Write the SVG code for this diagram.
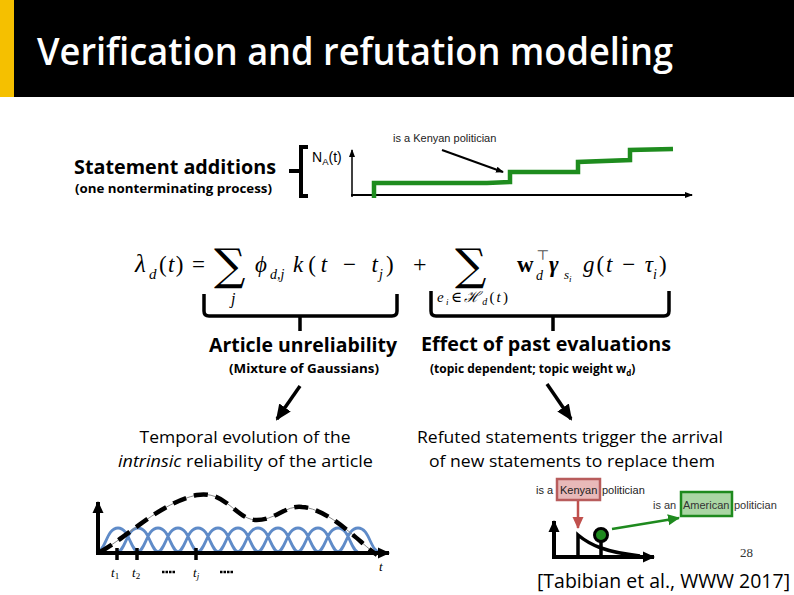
<svg xmlns="http://www.w3.org/2000/svg" width="794" height="595" viewBox="0 0 794 595">
<defs>
<style>
.sans{font-family:"Open Sans","Liberation Sans",sans-serif}
.arial{font-family:"Liberation Sans",Arial,sans-serif}
.math{font-family:"Liberation Serif","DejaVu Serif",serif}
.bold{font-weight:bold}
.ax{stroke:#000;fill:none}
</style>
<marker id="ahBig" markerUnits="userSpaceOnUse" markerWidth="16" markerHeight="16" viewBox="0 0 16 16" refX="14" refY="8" orient="auto">
<path d="M0,1 L16,8 L0,15 Z" fill="#000"/>
</marker>
<marker id="ahSmall" markerUnits="userSpaceOnUse" markerWidth="8" markerHeight="8" viewBox="0 0 8 8" refX="7" refY="4" orient="auto">
<path d="M0,1 L8,4 L0,7 Z" fill="#000"/>
</marker>
<marker id="ahMid" markerUnits="userSpaceOnUse" markerWidth="12" markerHeight="12" viewBox="0 0 12 12" refX="11" refY="6" orient="auto">
<path d="M0,0.5 L12,6 L0,11.5 Z" fill="#000"/>
</marker>
<marker id="ahRed" markerUnits="userSpaceOnUse" markerWidth="12" markerHeight="12" viewBox="0 0 12 12" refX="11" refY="6" orient="auto">
<path d="M0,0.5 L12,6 L0,11.5 Z" fill="#c0504d"/>
</marker>
<marker id="ahGreen" markerUnits="userSpaceOnUse" markerWidth="12" markerHeight="12" viewBox="0 0 12 12" refX="11" refY="6" orient="auto">
<path d="M0,0.5 L12,6 L0,11.5 Z" fill="#1e8a1e"/>
</marker>
</defs>
<rect width="794" height="595" fill="#fff"/>

<g id="title">
<rect x="0" y="0" width="794" height="97" fill="#000"/>
<rect x="0" y="0" width="14" height="97" fill="#f5c000"/>
<text x="37" y="65" class="sans" font-size="37" fill="#fff" font-weight="600" textLength="636" lengthAdjust="spacingAndGlyphs">Verification and refutation modeling</text>
</g>

<g id="statement-additions">
<text x="74" y="174" class="sans bold" font-size="19.5" textLength="202" lengthAdjust="spacingAndGlyphs">Statement additions</text>
<text x="75" y="193" class="sans bold" font-size="12" textLength="197" lengthAdjust="spacingAndGlyphs">(one nonterminating process)</text>
<path d="M308,147 L301,147 L301,196 L308,196 M289,171 L301,171" stroke="#000" stroke-width="4" fill="none"/>
</g>

<g id="na-chart">
<text x="312" y="162" class="arial" font-size="14">N<tspan font-size="9.5" dy="3">A</tspan><tspan dy="-3">(t)</tspan></text>
<line x1="352" y1="197" x2="352" y2="150" class="ax" stroke-width="1.5" marker-end="url(#ahSmall)"/>
<line x1="351" y1="195" x2="692" y2="195" class="ax" stroke-width="2" marker-end="url(#ahSmall)"/>
<path d="M374,198 L374,183 L487,183 L510,182 L510,172 L578,172 L578,162 L630,160 L630,150 L673,149" stroke="#1e8c1e" stroke-width="4.5" fill="none"/>
<text x="393" y="142" class="arial" font-size="11" fill="#222">is a Kenyan politician</text>
<line x1="442" y1="150" x2="503" y2="172" stroke="#000" stroke-width="2" marker-end="url(#ahSmall)"/>
</g>

<g id="formula" class="math">
<text x="135" y="272" font-size="25" font-style="italic">λ</text>
<text x="149" y="279" font-size="15" font-style="italic">d</text>
<text x="159" y="272" font-size="23" textLength="46" lengthAdjust="spacing">(<tspan font-style="italic">t</tspan>) =</text>
<text x="214" y="280" font-size="44" font-family="DejaVu Serif,serif">∑</text>
<text x="231" y="304" font-size="16" font-style="italic">j</text>
<text x="255" y="272" font-size="23" font-style="italic">ϕ</text>
<text x="270" y="279" font-size="14" font-style="italic">d,j</text>
<text x="293" y="272" font-size="23" textLength="85" lengthAdjust="spacing"><tspan font-style="italic">k</tspan>(<tspan font-style="italic">t</tspan> − <tspan font-style="italic">t</tspan></text>
<text x="379" y="279" font-size="14" font-style="italic">j</text>
<text x="386" y="272" font-size="23">)</text>
<text x="413" y="272" font-size="24">+</text>
<text x="455" y="280" font-size="44" font-family="DejaVu Serif,serif">∑</text>
<text x="437" y="302" font-size="15" textLength="71" lengthAdjust="spacing"><tspan font-style="italic">e</tspan><tspan font-size="9" dy="3" font-style="italic">i</tspan><tspan dy="-3">∈</tspan><tspan font-style="italic">ℋ</tspan><tspan font-size="10" dy="3" font-style="italic">d</tspan><tspan dy="-3">(</tspan><tspan font-style="italic">t</tspan>)</text>
<text x="517" y="272" font-size="23" font-weight="bold">w</text>
<text x="536" y="280" font-size="14" font-style="italic">d</text>
<text x="536" y="260" font-size="14" fill="#555">⊤</text>
<text x="549" y="272" font-size="23" font-weight="bold" font-style="italic">γ</text>
<text x="564" y="279" font-size="13" font-style="italic">s<tspan font-size="9" dy="3">i</tspan></text>
<text x="583" y="272" font-size="23" textLength="70" lengthAdjust="spacing"><tspan font-style="italic">g</tspan>(<tspan font-style="italic">t</tspan> − <tspan font-style="italic">τ</tspan></text>
<text x="653" y="279" font-size="14" font-style="italic">i</text>
<text x="659" y="272" font-size="23">)</text>
</g>

<g id="underbraces" stroke="#000" stroke-width="3.5" fill="none">
<path d="M204,294 L204,311 Q204,316 209,316 L392,316 Q397,316 397,311 L397,294 M300,316 L300,331"/>
<path d="M431,291 L431,311 Q431,316 436,316 L664,316 Q669,316 669,311 L669,291 M553,316 L553,331"/>
</g>

<g id="article-unreliability">
<text x="209" y="352" class="sans bold" font-size="19.5" textLength="188" lengthAdjust="spacingAndGlyphs">Article unreliability</text>
<text x="229" y="373" class="sans bold" font-size="12" textLength="150" lengthAdjust="spacingAndGlyphs">(Mixture of Gaussians)</text>
</g>

<g id="past-evaluations">
<text x="421" y="351" class="sans bold" font-size="19.5" textLength="250" lengthAdjust="spacingAndGlyphs">Effect of past evaluations</text>
<text x="430" y="373" class="sans bold" font-size="12">(topic dependent; topic weight w<tspan font-size="8" dy="3">d</tspan><tspan dy="-3">)</tspan></text>
</g>

<g id="connectors" stroke="#000" stroke-width="3.5" fill="none">
<line x1="300" y1="386" x2="277" y2="419" marker-end="url(#ahBig)"/>
<line x1="547" y1="384" x2="571" y2="419" marker-end="url(#ahBig)"/>
</g>

<g id="temporal-evolution">
<text x="245" y="443" class="sans" font-size="16.5" text-anchor="middle" textLength="211" lengthAdjust="spacingAndGlyphs">Temporal evolution of the</text>
<text x="118" y="467" class="sans" font-size="16.5" textLength="255" lengthAdjust="spacingAndGlyphs"><tspan font-style="italic">intrinsic</tspan> reliability of the article</text>
</g>

<g id="refuted-statements">
<text x="570" y="443" class="sans" font-size="16.5" text-anchor="middle" textLength="306" lengthAdjust="spacingAndGlyphs">Refuted statements trigger the arrival</text>
<text x="572" y="467" class="sans" font-size="16.5" text-anchor="middle" textLength="286" lengthAdjust="spacingAndGlyphs">of new statements to replace them</text>
</g>

<g id="gaussian-chart">
<path d="M96,553 C106,552 106,528 118,528 C130,528 130,552 140,553 M116,553 C126,552 126,528 138,528 C150,528 150,552 160,553 M136,553 C146,552 146,528 158,528 C170,528 170,552 180,553 M156,553 C166,552 166,528 178,528 C190,528 190,552 200,553 M176,553 C186,552 186,528 198,528 C210,528 210,552 220,553 M196,553 C206,552 206,528 218,528 C230,528 230,552 240,553 M216,553 C226,552 226,528 238,528 C250,528 250,552 260,553 M236,553 C246,552 246,528 258,528 C270,528 270,552 280,553 M256,553 C266,552 266,528 278,528 C290,528 290,552 300,553 M276,553 C286,552 286,528 298,528 C310,528 310,552 320,553 M296,553 C306,552 306,528 318,528 C330,528 330,552 340,553 M316,553 C326,552 326,528 338,528 C350,528 350,552 360,553 M336,553 C346,552 346,528 358,528 C370,528 370,552 381,553" stroke="#5f8bc8" stroke-width="2.8" fill="none"/>
<path d="M100,552 C130,535 160,503 197,495 C225,490 235,518 255,520 C275,521 285,505 302,507 C330,509 360,543 377,555" stroke="#888" stroke-width="1" fill="none"/>
<path d="M100,552 C130,535 160,503 197,495 C225,490 235,518 255,520 C275,521 285,505 302,507 C330,509 360,543 377,555" stroke="#000" stroke-width="4.5" stroke-dasharray="14 8" fill="none"/>
<line x1="98" y1="555" x2="98" y2="502" class="ax" stroke-width="4" marker-end="url(#ahMid)"/>
<line x1="96" y1="553" x2="389" y2="553" class="ax" stroke-width="4" marker-end="url(#ahMid)"/>
<path d="M117,548 L117,560 M137,548 L137,560 M196,548 L196,560" stroke="#000" stroke-width="3.5"/>
<path d="M162,572 L175,572 M220,572 L233,572" stroke="#000" stroke-width="2.5" stroke-dasharray="2.5 1"/>
<text x="111" y="577" class="math" font-size="13" font-style="italic">t<tspan font-size="9" dy="2" font-style="normal">1</tspan></text>
<text x="132" y="577" class="math" font-size="13" font-style="italic">t<tspan font-size="9" dy="2" font-style="normal">2</tspan></text>
<text x="193" y="577" class="math" font-size="13" font-style="italic">t<tspan font-size="9" dy="2">j</tspan></text>
<text x="379" y="571" class="math" font-size="13" font-style="italic">t</text>
</g>

<g id="replacement-chart">
<rect x="557" y="479" width="43" height="21" fill="#e8b9b9" stroke="#b85c5c" stroke-width="2.5"/>
<text x="536" y="494" class="arial" font-size="11" fill="#222">is a <tspan x="560">Kenyan</tspan><tspan x="602">politician</tspan></text>
<line x1="578" y1="501" x2="578" y2="528" stroke="#c0504d" stroke-width="2.5" marker-end="url(#ahRed)"/>
<rect x="681" y="492" width="51" height="24" fill="#aad6a4" stroke="#1e8a1e" stroke-width="2.5"/>
<text x="653" y="509" class="arial" font-size="11" fill="#333">is an <tspan x="683">American</tspan><tspan x="734">politician</tspan></text>
<line x1="612" y1="529" x2="679" y2="518" stroke="#1e8a1e" stroke-width="2.5" marker-end="url(#ahGreen)"/>
<line x1="554" y1="559" x2="554" y2="521" class="ax" stroke-width="4" marker-end="url(#ahMid)"/>
<line x1="552" y1="557" x2="654" y2="557" class="ax" stroke-width="4" marker-end="url(#ahMid)"/>
<path d="M578,557 L578,535 C590,545 605,552 640,556" stroke="#000" stroke-width="3.5" fill="none"/>
<line x1="601" y1="540" x2="601" y2="557" stroke="#000" stroke-width="3.5"/>
<circle cx="601" cy="535" r="6.5" fill="#1e8a1e" stroke="#000" stroke-width="3"/>
</g>

<g id="footer">
<text x="740" y="557" class="math" font-size="13" fill="#333">28</text>
<text x="537" y="588" class="sans" font-size="19.5" textLength="253" lengthAdjust="spacingAndGlyphs">[Tabibian et al., WWW 2017]</text>
</g>
</svg>
